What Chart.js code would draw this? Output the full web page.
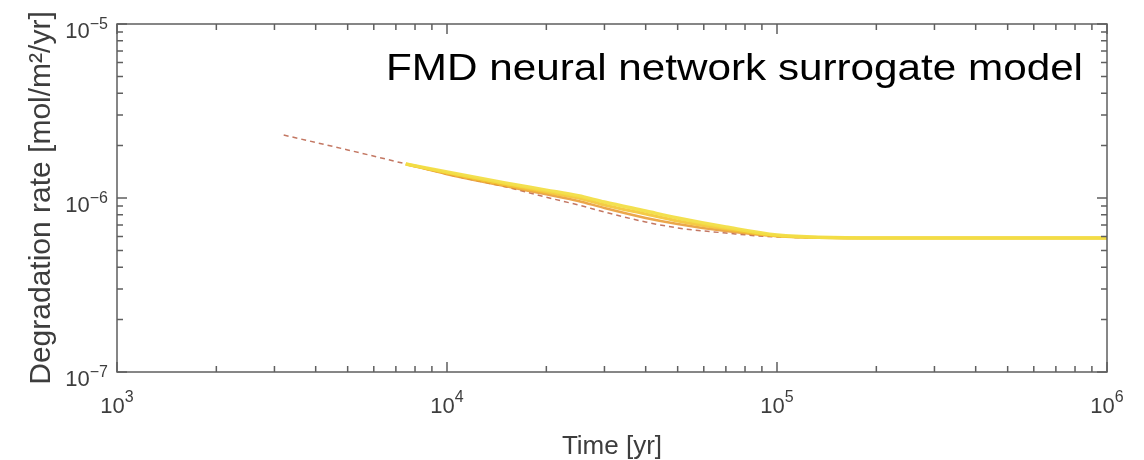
<!DOCTYPE html>
<html>
<head>
<meta charset="utf-8">
<script src="https://cdn.jsdelivr.net/npm/chart.js@4.4.1/dist/chart.umd.min.js"></script>
<style>
  html, body { margin: 0; padding: 0; background: #fff; }
</style>
</head>
<body>
<canvas id="chart" width="1144" height="460"></canvas>
<script>
// reference (dashed) curve
const timeRef = [3200, 5000, 7500, 1e4, 1.5e4, 2e4, 2.5e4, 3e4, 4e4, 5e4, 7e4, 1e5, 2e5, 1e6];
const rateRef = [2.30e-6, 1.89e-6, 1.57e-6, 1.37e-6, 1.16e-6, 1.01e-6, 9.12e-7, 8.31e-7, 7.28e-7, 6.73e-7, 6.29e-7, 5.97e-7, 5.89e-7, 5.89e-7];

// neural network surrogate ensemble
const timeNN = [7500, 1e4, 1.5e4, 2e4, 2.5e4, 3e4, 4e4, 5e4, 7e4, 1e5, 2e5, 1e6];
const rateNN1 = [1.57e-6, 1.41e-6, 1.22e-6, 1.11e-6, 1.03e-6, 9.48e-7, 8.42e-7, 7.68e-7, 6.81e-7, 6.13e-7, 5.89e-7, 5.89e-7];
const rateNN2 = [1.57e-6, 1.39e-6, 1.19e-6, 1.08e-6, 1.00e-6, 9.12e-7, 8.09e-7, 7.38e-7, 6.64e-7, 6.05e-7, 5.89e-7, 5.89e-7];
const rateNN3 = [1.57e-6, 1.37e-6, 1.17e-6, 1.05e-6, 9.61e-7, 8.76e-7, 7.68e-7, 7.09e-7, 6.46e-7, 6.05e-7, 5.89e-7, 5.89e-7];

// axes
const xTickValues = [1e3, 2e3, 3e3, 4e3, 5e3, 6e3, 7e3, 8e3, 9e3,
                     1e4, 2e4, 3e4, 4e4, 5e4, 6e4, 7e4, 8e4, 9e4,
                     1e5, 2e5, 3e5, 4e5, 5e5, 6e5, 7e5, 8e5, 9e5, 1e6];
const xMajor = [1e3, 1e4, 1e5, 1e6];
const xMajorExp = ['3', '4', '5', '6'];
const yTickValues = [1e-7, 2e-7, 3e-7, 4e-7, 5e-7, 6e-7, 7e-7, 8e-7, 9e-7,
                     1e-6, 2e-6, 3e-6, 4e-6, 5e-6, 6e-6, 7e-6, 8e-6, 9e-6, 1e-5];
const yMajor = [1e-7, 1e-6, 1e-5];
const yMajorExp = ['−7', '−6', '−5'];
const tickBase = '10';

const noteText = 'FMD neural network surrogate model';
const axisColor = '#5f5f5f';
const labelColor = '#3d3d3d';
const FONT = '"Liberation Sans", Arial, Helvetica, sans-serif';

Chart.defaults.font.family = FONT;

const pts = (xs, ys) => xs.map((x, i) => ({ x, y: ys[i] }));

// inward ticks on all four sides, box, power-of-ten labels, annotation
const matlabBox = {
  id: 'matlabBox',
  afterDatasetsDraw(chart) {
    const { ctx, chartArea: a, scales: { x, y } } = chart;
    ctx.save();
    ctx.strokeStyle = axisColor;
    ctx.lineWidth = 1.5;
    ctx.beginPath();
    x.ticks.forEach(t => {
      const px = x.getPixelForValue(t.value);
      const len = xMajor.includes(t.value) ? 10 : 6;
      ctx.moveTo(px, a.bottom); ctx.lineTo(px, a.bottom - len);
      ctx.moveTo(px, a.top); ctx.lineTo(px, a.top + len);
    });
    y.ticks.forEach(t => {
      const py = y.getPixelForValue(t.value);
      const len = yMajor.includes(t.value) ? 10 : 6;
      ctx.moveTo(a.left, py); ctx.lineTo(a.left + len, py);
      ctx.moveTo(a.right, py); ctx.lineTo(a.right - len, py);
    });
    ctx.stroke();
    ctx.strokeRect(a.left, a.top, a.right - a.left, a.bottom - a.top);

    // tick labels: 10 with raised exponent
    const baseFont = '22px ' + FONT, expFont = '16px ' + FONT;
    ctx.fillStyle = labelColor;
    ctx.textBaseline = 'alphabetic';
    ctx.textAlign = 'left';
    xMajor.forEach((v, i) => {
      const px = x.getPixelForValue(v);
      ctx.font = baseFont; const wb = ctx.measureText(tickBase).width;
      ctx.font = expFont; const we = ctx.measureText(xMajorExp[i]).width;
      const sx = px - (wb + we) / 2;
      ctx.font = baseFont; ctx.fillText(tickBase, sx, a.bottom + 41);
      ctx.font = expFont; ctx.fillText(xMajorExp[i], sx + wb, a.bottom + 30);
    });
    yMajor.forEach((v, i) => {
      const py = y.getPixelForValue(v);
      ctx.font = expFont; const we = ctx.measureText(yMajorExp[i]).width;
      const ex = a.left - 9 - we;
      ctx.textAlign = 'left'; ctx.fillText(yMajorExp[i], ex, py + 5);
      ctx.font = baseFont; ctx.textAlign = 'right'; ctx.fillText(tickBase, ex, py + 14);
    });

    ctx.font = '37px ' + FONT;
    ctx.fillStyle = '#000';
    ctx.textAlign = 'left';
    const w = ctx.measureText(noteText).width;
    ctx.translate(386, 80);
    ctx.scale(697 / w, 1);
    ctx.fillText(noteText, 0, 0);
    ctx.restore();
  }
};

const lineBase = { pointRadius: 0, fill: false, cubicInterpolationMode: 'monotone' };

new Chart(document.getElementById('chart'), {
  type: 'line',
  data: {
    datasets: [
      { ...lineBase, label: 'NN 1', data: pts(timeNN, rateNN1), borderColor: 'rgba(242,222,70,0.95)', borderWidth: 3.5 },
      { ...lineBase, label: 'NN 2', data: pts(timeNN, rateNN2), borderColor: 'rgba(244,196,50,0.9)', borderWidth: 3 },
      { ...lineBase, label: 'NN 3', data: pts(timeNN, rateNN3), borderColor: 'rgba(232,150,44,0.85)', borderWidth: 2.5 },
      { ...lineBase, label: 'Reference', data: pts(timeRef, rateRef), borderColor: 'rgba(185,95,70,0.85)', borderWidth: 1.5, borderDash: [5, 4] }
    ]
  },
  options: {
    responsive: false,
    animation: false,
    layout: { padding: { left: 0, right: 37, top: 24, bottom: 0 } },
    plugins: { legend: { display: false }, tooltip: { enabled: false } },
    scales: {
      x: {
        type: 'logarithmic',
        min: 1e3,
        max: 1e6,
        afterBuildTicks: s => { s.ticks = xTickValues.map(v => ({ value: v, major: xMajor.includes(v) })); },
        afterFit: s => { s.height = 88; },
        grid: { display: false, drawTicks: false },
        border: { display: false },
        ticks: { display: false },
        title: { display: true, text: 'Time [yr]', color: labelColor, font: { size: 26, lineHeight: 1 }, padding: { top: 0, bottom: 0 } }
      },
      y: {
        type: 'logarithmic',
        min: 1e-7,
        max: 1e-5,
        afterBuildTicks: s => { s.ticks = yTickValues.map(v => ({ value: v, major: yMajor.includes(v) })); },
        afterFit: s => { s.width = 117; },
        grid: { display: false, drawTicks: false },
        border: { display: false },
        ticks: { display: false },
        title: { display: true, text: 'Degradation rate [mol/m²/yr]', color: labelColor, font: { size: 30, lineHeight: 1 }, padding: { top: 27, bottom: 0 } }
      }
    }
  },
  plugins: [matlabBox]
});
</script>
</body>
</html>
